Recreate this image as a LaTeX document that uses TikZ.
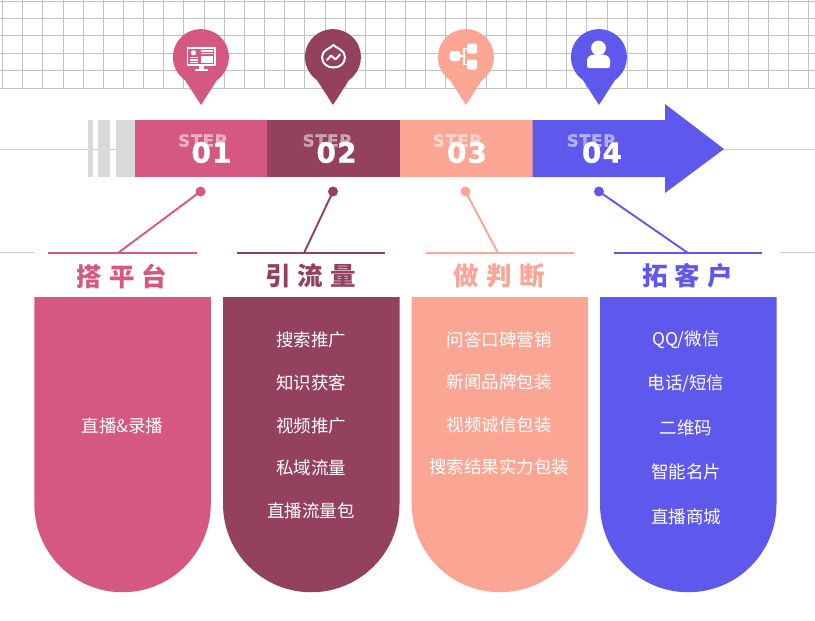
\documentclass[tikz,border=0pt]{standalone}
\usepackage{fontspec}
\newfontfamily\cjk{Noto Sans CJK SC}
\newfontfamily\cjktitle[LetterSpace=28]{Noto Sans CJK SC}
\newfontfamily\stepfont[LetterSpace=4,BoldFeatures={FakeBold=1.2}]{DejaVu Sans}
\definecolor{pinka}{HTML}{D4587F}
\definecolor{maroon}{HTML}{94405F}
\definecolor{salmon}{HTML}{FBA594}
\definecolor{violet}{HTML}{5F58EC}
\tikzset{
  gridline/.style={draw=black!24, line width=0.8pt},
  backline/.style={draw=black!20, line width=0.9pt},
  item/.style={inner sep=0pt, text=white, font=\cjk\fontsize{17.5}{20}\selectfont},
  headline/.style={inner sep=0pt, font=\cjktitle\bfseries\fontsize{25.5}{28}\selectfont},
  steptext/.style={inner sep=0pt, text=white, text opacity=0.5, font=\stepfont\bfseries\fontsize{16.5}{18}\selectfont},
  stepnum/.style={inner sep=0pt, text=white, font=\stepfont\bfseries\fontsize{28}{30}\selectfont},
  dotmark/.style={circle, inner sep=0pt, minimum size=10pt},
}

\begin{document}
\begin{tikzpicture}[x=1pt, y=-1pt]
  \useasboundingbox (0,0) rectangle (815,621);
  \fill[white] (0,0) rectangle (815,621);

  % grid behind the pins
  \foreach \k in {0,...,40} {
    \draw[gridline] ({2.5+20.15*\k},0) -- ({2.5+20.15*\k},88);
  }
  \foreach \k in {0,...,5} {
    \draw[gridline] (0,{1+17.4*\k}) -- (815,{1+17.4*\k});
  }

  \draw[backline] (0,149.5) -- (815,149.5);
  \draw[backline] (0,252) -- (34,252);
  \draw[backline] (780,252) -- (815,252);

  % bar
  \fill[black!15] (88,120) rectangle (92.5,177);
  \fill[black!15] (98,120) rectangle (110,177);
  \fill[black!15] (116,120) rectangle (135,177);
  \fill[pinka] (135,120) rectangle (267,177);
  \fill[maroon] (267,120) rectangle (400,177);
  \fill[salmon] (400,120) rectangle (532.5,177);
  \fill[violet] (532.5,120) -- (665,120) -- (665,104) -- (724,149) -- (665,193) -- (665,177) -- (532.5,177) -- cycle;

  % pins, connectors and panels
  \foreach \n/\col/\px/\dx/\footx/\rulea/\ruleb/\panela/\title in {
    1/pinka/201/200.5/118/48/196.5/34.3/搭平台,
    2/maroon/333/333/304/237/385/223/引流量,
    3/salmon/466/465.5/498/425.5/574/411.7/做判断,
    4/violet/599/599/688/614/762/600/拓客户} {
    \fill[\col] (\px,105) -- ({\px+16},80) arc[start angle=55, end angle=-235, radius=28] -- cycle;

    \node[dotmark, fill=\col] (dot\n) at (\dx,191.5) {};
    \coordinate (foot\n) at (\footx,253);
    \coordinate (rulea\n) at (\rulea,253);
    \coordinate (ruleb\n) at (\ruleb,253);
    \draw[\col, line width=1.9pt] (rulea\n) -- (ruleb\n);
    \draw[\col, line width=1.9pt] (dot\n.center) -- (foot\n);

    \node[headline, text=\col] (title\n) at ({\panela+87.5},276) {\title};

    \fill[\col] (\panela,297) -- ({\panela+176.5},297) -- ({\panela+176.5},504)
      arc[start angle=0, end angle=180, radius=88.25] -- cycle;
  }

  % step labels
  \foreach \n/\sx/\nx in {1/202.5/211.5, 2/327/336.5, 3/457/467, 4/591/602} {
    \node[steptext] (step\n) at (\sx,140.5) {STEP};
    \node[stepnum] (num\n) at (\nx,152.5) {0\n};
  }

  % monitor
  \fill[white] (186.5,47) rectangle (215.5,66);
  \fill[white] (198.5,66) rectangle (203.5,69);
  \fill[white] (194.5,68.8) rectangle (207.5,70.8);
  \fill[pinka] (188.3,48.8) rectangle (213.7,64.2);
  \fill[white] (193.5,52.8) circle[radius=2.6];
  \fill[white] (189.5,56.8) rectangle (198,58);
  \fill[white] (189.5,59.4) rectangle (198,60.6);
  \fill[white] (189.5,61.8) rectangle (198,63);
  \fill[white] (201,50.3) rectangle (212.5,51.7);
  \fill[white] (201,53) rectangle (212.5,54.4);
  \fill[white] (201,55.5) rectangle (212.5,63);

  % drop
  \draw[white, line width=2pt, line join=round] (333.5,45) .. controls (336,48) and (345,50) .. (345,57)
    .. controls (345,63.5) and (340,67.5) .. (333.5,67.5)
    .. controls (327,67.5) and (322,63.5) .. (322,57)
    .. controls (322,50) and (331,48) .. (333.5,45) -- cycle;
  \draw[white, line width=2pt, line join=round, line cap=round] (327,60) -- (331,55.5) -- (335.5,59.5) -- (340,54.5);

  % network
  \fill[white, rounded corners=3pt] (449.5,51) rectangle (460.5,61);
  \fill[white, rounded corners=2pt] (467,43.5) rectangle (477,53.5);
  \fill[white, rounded corners=2pt] (467,59.5) rectangle (477,69.5);
  \draw[white, line width=1.2pt] (460,56) -- (464,56);
  \draw[white, line width=1.2pt] (467,48.5) -- (464,48.5) -- (464,64.5) -- (467,64.5);

  % person
  \fill[white] (598.5,48) circle[radius=7.4];
  \fill[white, rounded corners=2pt] (587,68) -- (587,62) .. controls (587,57) and (591,55) .. (594,54.5)
    -- (603,54.5) .. controls (606,55) and (610,57) .. (610,62) -- (610,68) -- cycle;

  % panel texts
  \node[item] (a1) at (122.5,425.5) {直播\&录播};

  \node[item] (b1) at (311,339.5) {搜索推广};
  \node[item] (b2) at (311,382.5) {知识获客};
  \node[item] (b3) at (311,425.5) {视频推广};
  \node[item] (b4) at (311,468) {私域流量};
  \node[item] (b5) at (311,510.5) {直播流量包};

  \node[item] (c1) at (499,339.5) {问答口碑营销};
  \node[item] (c2) at (499,381.5) {新闻品牌包装};
  \node[item] (c3) at (499,424.5) {视频诚信包装};
  \node[item] (c4) at (499,466.5) {搜索结果实力包装};

  \node[item] (d1) at (686,339.5) {QQ/微信};
  \node[item] (d2) at (686,383.5) {电话/短信};
  \node[item] (d3) at (686,428) {二维码};
  \node[item] (d4) at (686,472) {智能名片};
  \node[item] (d5) at (686,517) {直播商城};
\end{tikzpicture}
\end{document}
